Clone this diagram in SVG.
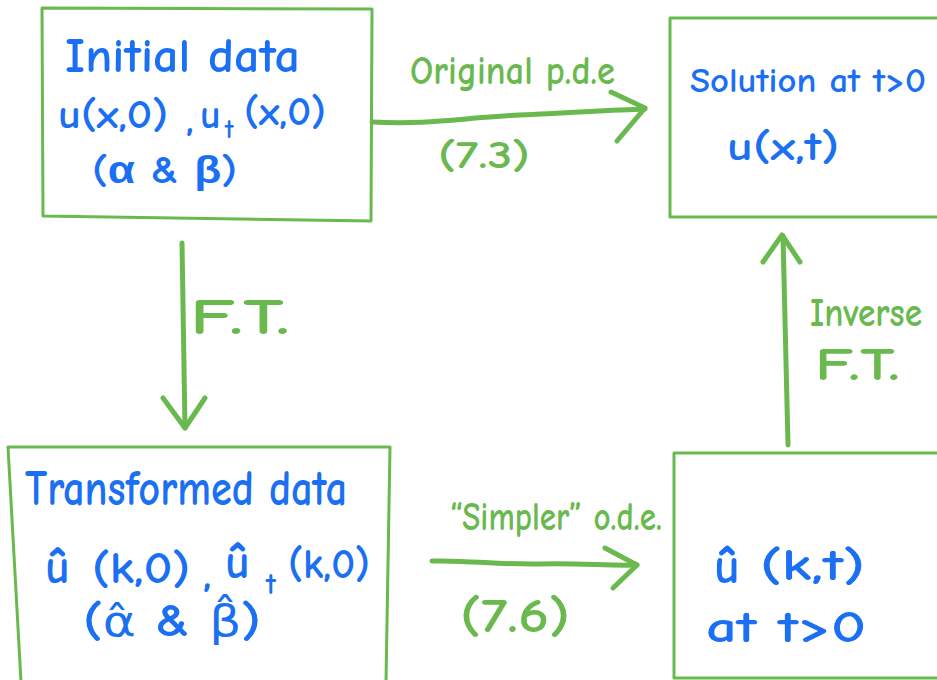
<svg xmlns="http://www.w3.org/2000/svg" width="937" height="680" viewBox="0 0 937 680">
<style>
.box{fill:none;stroke:#6ab94f;stroke-width:3;stroke-linejoin:round}
.arr{fill:none;stroke:#6ab94f;stroke-width:5;stroke-linecap:round;stroke-linejoin:round}
.b{fill:#1a6ff2;font-family:"Comic Neue","Liberation Sans",sans-serif;font-weight:bold}
.g{fill:#6ab94f;font-family:"Comic Neue","Liberation Sans",sans-serif;font-weight:bold}
.dj{font-family:"DejaVu Sans",sans-serif;font-weight:normal}
</style>
<rect width="937" height="680" fill="#ffffff"/>
<g id="initial">
<polygon class="box" points="42,8 372,9 371,221 43,216"/>
<text class="b" x="65" y="72" font-size="48" textLength="235" lengthAdjust="spacingAndGlyphs">Initial data</text>
<text class="b" x="58" y="128" font-size="40" textLength="110" lengthAdjust="spacingAndGlyphs">u(x,0)</text>
<text class="b" x="186" y="132" font-size="40">,</text>
<text class="b" x="200" y="128" font-size="40">u</text>
<text class="b" x="225" y="138" font-size="26">t</text>
<text class="b" x="244" y="125" font-size="40" textLength="82" lengthAdjust="spacingAndGlyphs">(x,0)</text>
<text class="b" x="92" y="183" font-size="38" textLength="145" lengthAdjust="spacingAndGlyphs">(α &amp; β)</text>
</g>
<g id="solution">
<polygon class="box" points="670,18 940,18 940,217 670,217"/>
<text class="b" x="690" y="92" font-size="35" textLength="236" lengthAdjust="spacingAndGlyphs">Solution at t&gt;0</text>
<text class="b" x="727" y="160" font-size="40" textLength="112" lengthAdjust="spacingAndGlyphs">u(x,t)</text>
</g>
<g id="transformed">
<polygon class="box" points="8,447 390,447 386,682 21,682"/>
<text class="b" x="25" y="505" font-size="50" textLength="322" lengthAdjust="spacingAndGlyphs">Transformed data</text>
<text class="b" x="45" y="583" font-size="48">û</text>
<text class="b" x="92" y="583" font-size="44" textLength="98" lengthAdjust="spacingAndGlyphs">(k,0)</text>
<text class="b" x="203" y="588" font-size="44">,</text>
<text class="b" x="225" y="578" font-size="48">û</text>
<text class="b" x="266" y="594" font-size="30">t</text>
<text class="b" x="288" y="578" font-size="42" textLength="82" lengthAdjust="spacingAndGlyphs">(k,0)</text>
<text class="b" x="83" y="636" font-size="46" textLength="178" lengthAdjust="spacingAndGlyphs">(<tspan class="dj" font-size="42">α̂</tspan>  &amp;  <tspan class="dj" font-size="42">β̂</tspan>)</text>
</g>
<g id="ode-solution">
<polygon class="box" points="674,453 940,453 940,678 674,678"/>
<text class="b" x="714" y="583" font-size="50">û</text>
<text class="b" x="760" y="580" font-size="44" textLength="105" lengthAdjust="spacingAndGlyphs">(k,t)</text>
<text class="b" x="706" y="642" font-size="44" textLength="160" lengthAdjust="spacingAndGlyphs">at t&gt;0</text>
</g>
<g id="connectors">
<path class="arr" d="M372,122 C430,125 460,118 520,115 C570,113 610,110 645,109"/>
<path class="arr" d="M611,92 L645,108 L617,141"/>
<text class="g" x="410" y="84" font-size="40" textLength="205" lengthAdjust="spacingAndGlyphs">Original p.d.e</text>
<text class="g" x="438" y="168" font-size="38" textLength="92" lengthAdjust="spacingAndGlyphs">(7.3)</text>
<path class="arr" d="M182,243 L185,428"/>
<path class="arr" d="M163,398 L185,428 L205,398"/>
<text class="g" x="190" y="334" font-size="50" textLength="100" lengthAdjust="spacingAndGlyphs">F.T.</text>
<path class="arr" d="M788,445 L783,236"/>
<path class="arr" d="M763,262 L782,235 L800,262"/>
<text class="g" x="810" y="326" font-size="40" textLength="112" lengthAdjust="spacingAndGlyphs">Inverse</text>
<text class="g" x="815" y="380" font-size="46" textLength="85" lengthAdjust="spacingAndGlyphs">F.T.</text>
<path class="arr" d="M432,561 C470,560 500,565 540,564 C580,563 610,566 637,565"/>
<path class="arr" d="M605,548 L637,565 L613,588"/>
<text class="g" x="450" y="530" font-size="40" textLength="212" lengthAdjust="spacingAndGlyphs">“Simpler” o.d.e.</text>
<text class="g" x="460" y="632" font-size="48" textLength="110" lengthAdjust="spacingAndGlyphs">(7.6)</text>
</g>
</svg>
